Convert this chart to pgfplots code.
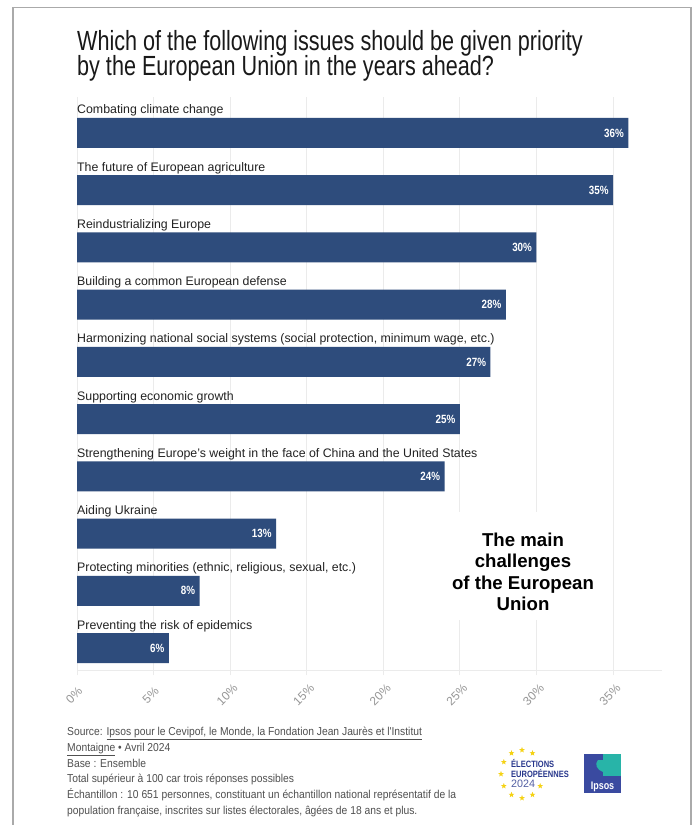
\documentclass[border=0pt]{standalone}
\usepackage{fontspec}
\setmainfont{Liberation Sans}
\newfontfamily\narrowfont[FakeStretch=0.82]{Liberation Sans}
\newfontfamily\footfont[FakeStretch=0.9]{Liberation Sans}
\newfontfamily\titlefont[FakeStretch=0.78]{Liberation Sans}
\usepackage{pgfplots}
\pgfplotsset{compat=1.18}
\usetikzlibrary{shapes.geometric}
\definecolor{barblue}{RGB}{46,76,124}
\definecolor{framegray}{RGB}{170,170,170}
\definecolor{gridgray}{RGB}{235,235,235}
\definecolor{tickgray}{RGB}{150,150,150}
\definecolor{labelcol}{RGB}{34,34,34}
\definecolor{footcol}{RGB}{80,80,80}
\definecolor{eublue}{RGB}{40,55,140}
\definecolor{euyellow}{RGB}{245,210,20}
\definecolor{ipsosblue}{RGB}{58,74,160}
\definecolor{ipsosteal}{RGB}{40,180,168}
\begin{document}
\begin{tikzpicture}
\begin{scope}[x=1bp,y=-1bp]
\useasboundingbox (0,0) rectangle (696,825);
\fill[white] (0,0) rectangle (696,825);
\draw[framegray, line width=1.2bp] (13,825) -- (13,7.5) -- (691,7.5) -- (691,825);
\node[anchor=base west, inner sep=0, font=\titlefont\fontsize{27.8}{27.8}\selectfont, text=black!90] at (77,50) {Which of the following issues should be given priority};
\node[anchor=base west, inner sep=0, font=\titlefont\fontsize{27.8}{27.8}\selectfont, text=black!90] at (77,75.5) {by the European Union in the years ahead?};
% footer
\begin{scope}[every node/.style={anchor=base west, inner sep=0, font=\footfont\fontsize{11.5}{11.5}\selectfont, text=footcol}]
\node at (67,735) {Source: \underline{Ipsos pour le Cevipof, le Monde, la Fondation Jean Jaurès et l'Institut}};
\node at (67,751) {\underline{Montaigne} • Avril 2024};
\node at (67,767) {Base : Ensemble};
\node at (67,782.5) {Total supérieur à 100 car trois réponses possibles};
\node at (67,798) {Échantillon : 10 651 personnes, constituant un échantillon national représentatif de la};
\node at (67,814) {population française, inscrites sur listes électorales, âgées de 18 ans et plus.};
\end{scope}
% elections logo
\foreach \a in {60,90,...,330}
  \node[star, star points=5, star point ratio=2.4, fill=euyellow, inner sep=0, minimum size=6bp] at ({522+21*cos(\a)},{774-24*sin(\a)}) {};
\node[anchor=base west, inner sep=0, font=\narrowfont\bfseries\fontsize{9.2}{9.2}\selectfont, text=eublue] at (511,767) {ÉLECTIONS};
\node[anchor=base west, inner sep=0, font=\narrowfont\bfseries\fontsize{9.2}{9.2}\selectfont, text=eublue] at (511,777.5) {EUROPÉENNES};
\node[anchor=base west, inner sep=0, font=\fontsize{10.8}{10.8}\selectfont, text=eublue!80] at (511,787.5) {2024};
% ipsos logo
\fill[ipsosblue] (584,754) rectangle (621,793);
\fill[ipsosteal] (603,754) rectangle (621,776);
\fill[ipsosteal] (598,760) .. controls (594,764) and (597,770) .. (603,772) -- (603,760) -- cycle;
\node[anchor=base, inner sep=0, font=\narrowfont\bfseries\fontsize{11}{11}\selectfont, text=white] at (602.5,789) {Ipsos};
\end{scope}
\begin{axis}[
  at={(77bp,-670bp)}, anchor=south west,
  width=585bp, height=573bp, scale only axis,
  xmin=0, xmax=38.2, ymin=-0.384, ymax=9.629,
  xbar, bar width=30bp,
  clip=false,
  /pgf/number format/assume math mode=true,
  xtick={0,5,...,35},
  xticklabels={0\%,5\%,10\%,15\%,20\%,25\%,30\%,35\%},
  ytick=\empty,
  axis y line=none,
  axis x line*=bottom,
  x axis line style={-, draw=gridgray, line width=1bp},
  xmajorgrids, major grid style={gridgray, line width=0.8bp},
  major tick style={gridgray, line width=0.8bp}, major tick length=5bp, tick align=outside,
  xticklabel style={anchor=center, xshift=-3bp, yshift=-20bp, rotate=45, font=\fontsize{12}{12}\selectfont, text=tickgray},
  nodes near coords={\pgfmathprintnumber{\pgfplotspointmeta}\%},
  every node near coord/.append style={anchor=east, xshift=-1bp, font=\narrowfont\bfseries\fontsize{12}{12}\selectfont, text=white},
]
\addplot[fill=barblue, draw=none] coordinates {(36,9) (35,8) (30,7) (28,6) (27,5) (25,4) (24,3) (13,2) (8,1) (6,0)};
\begin{scope}[every node/.style={anchor=base west, inner sep=0, font=\fontsize{12.4}{12.4}\selectfont, text=labelcol, yshift=19bp}]
\node at (axis cs:0,9) {Combating climate change};
\node at (axis cs:0,8) {The future of European agriculture};
\node at (axis cs:0,7) {Reindustrializing Europe};
\node at (axis cs:0,6) {Building a common European defense};
\node at (axis cs:0,5) {Harmonizing national social systems (social protection, minimum wage, etc.)};
\node at (axis cs:0,4) {Supporting economic growth};
\node at (axis cs:0,3) {Strengthening Europe's weight in the face of China and the United States};
\node at (axis cs:0,2) {Aiding Ukraine};
\node at (axis cs:0,1) {Protecting minorities (ethnic, religious, sexual, etc.)};
\node at (axis cs:0,0) {Preventing the risk of epidemics};
\end{scope}
\end{axis}
\begin{scope}[x=1bp,y=-1bp]
\fill[white] (440,512) rectangle (606,620);
\foreach \t/\yy in {The main/546, challenges/567.5, of the European/589, Union/610.5}
  \node[anchor=base, inner sep=0, font=\bfseries\fontsize{18.7}{18.7}\selectfont, text=black] at (523,\yy) {\t};
\end{scope}
\end{tikzpicture}
\end{document}
